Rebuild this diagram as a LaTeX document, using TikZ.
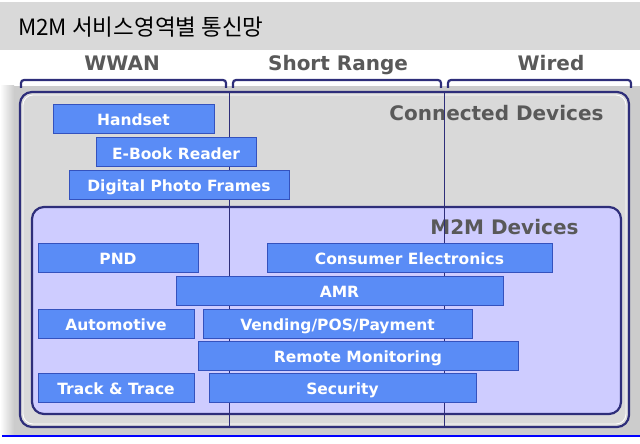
\documentclass[tikz,border=0pt]{standalone}
\usepackage{fontspec}
\setmainfont{DejaVu Sans}
\newfontfamily\krfont{Noto Sans CJK KR}
\usetikzlibrary{positioning}

\definecolor{navy}{RGB}{46,46,122}
\definecolor{boxblue}{RGB}{90,140,246}
\definecolor{boxedge}{RGB}{52,82,190}
\definecolor{headgray}{RGB}{89,89,89}
\definecolor{lavender}{RGB}{206,204,255}
\definecolor{panelgray}{RGB}{217,217,217}

\begin{document}
\begin{tikzpicture}[x=1pt,y=-1pt,
    devbox/.style={draw=boxedge,fill=boxblue,text=white,line width=0.8pt,
      minimum height=29pt,inner sep=0pt,text height=14.5pt,text depth=0pt,
      font=\bfseries\fontsize{15.5}{15.5}\selectfont},
    header/.style={text=headgray,text height=14.6pt,text depth=0pt,
      font=\bfseries\fontsize{20}{20}\selectfont},
    bracket/.style={navy,line width=2.2pt,rounded corners=3pt},
    frame/.style={draw=navy,line width=2.2pt,rounded corners=12pt}]
        \useasboundingbox (0,0) rectangle (640,444);

        % title bar
        \fill[panelgray] (0,2) rectangle (640,50);
        \node[anchor=west,inner sep=0pt,font=\krfont\fontsize{22.5}{22.5}\selectfont] (title) at (18,27) {M2M 서비스영역별 통신망};

        % backdrop
        \shade[left color=white,right color=black!20] (0,86) rectangle (14,435);
        \fill[black!20] (14,86) rectangle (640,435);

        % column headers
        \node[header] (wwan)  at (122,63) {WWAN};
        \node[header] (short) at (338,63) {Short Range};
        \node[header] (wired) at (551,63) {Wired};
        \draw[bracket] (21,88) -- (21,80) -- (226,80) -- (226,88);
        \draw[bracket] (233,88) -- (233,80) -- (441,80) -- (441,88);
        \draw[bracket] (448,88) -- (448,80) -- (631,80) -- (631,88);

        % connected devices
        \draw[frame,fill=panelgray] (20,92) rectangle (629,427);
        \draw[white,line width=0.8pt,rounded corners=10pt] (23,95) rectangle (626,424);
        \node[header,anchor=east] (conn) at (607,113) {Connected Devices};

        % M2M devices
        \draw[frame,fill=lavender] (32,207) rectangle (621,414);
        \node[header,anchor=east] (m2m) at (582,227) {M2M Devices};

        % dividers
        \draw[navy,line width=1pt] (229,92) -- (229,427);
        \draw[navy,line width=1pt] (444,92) -- (444,427);

        \node[devbox,minimum width=161pt] (handset)  at (133.5,118.5) {Handset};
        \node[devbox,minimum width=160pt] (ebook)    at (176,152)     {E-Book Reader};
        \node[devbox,minimum width=220pt] (photo)    at (179,184.5)   {Digital Photo Frames};

        \node[devbox,minimum width=160pt] (pnd)      at (118,257.5)   {PND};
        \node[devbox,minimum width=285pt] (consumer) at (409.5,257.5) {Consumer Electronics};
        \node[devbox,minimum width=327pt] (amr)      at (339.5,290.5) {AMR};
        \node[devbox,minimum width=156pt] (auto)     at (116,323.5)   {Automotive};
        \node[devbox,minimum width=269pt] (vending)  at (337.5,323.5) {Vending/POS/Payment};
        \node[devbox,minimum width=320pt] (remote)   at (358,355.5)   {Remote Monitoring};
        \node[devbox,minimum width=156pt] (track)    at (116,387.5)   {Track \& Trace};
        \node[devbox,minimum width=267pt] (security) at (342.5,387.5) {Security};

        % bottom rule
        \draw[blue,line width=2pt] (2,436) -- (640,436);
\end{tikzpicture}
\end{document}
